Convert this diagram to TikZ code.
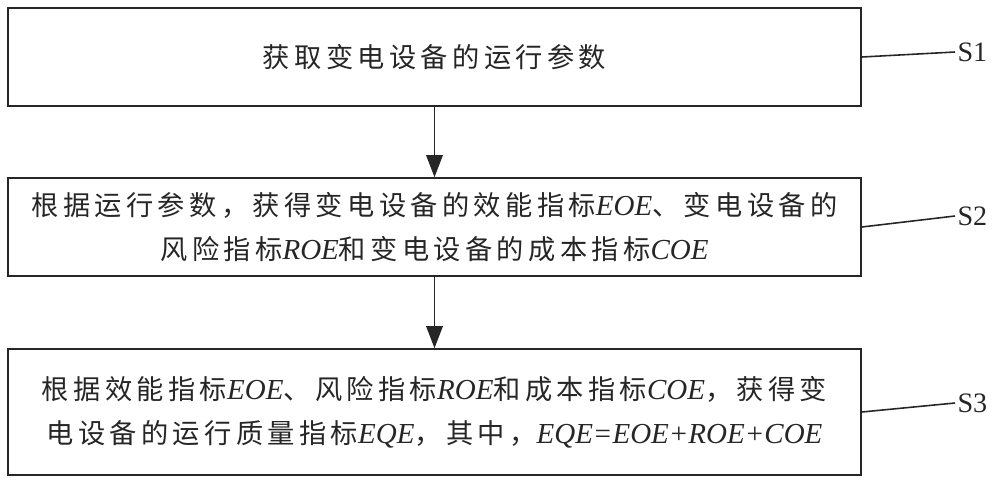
\documentclass[tikz,border=0pt]{standalone}
\usepackage{fontspec}
\setmainfont[LetterSpace=16]{Noto Sans CJK SC}
\newfontfamily\enfont{Liberation Serif}
\usetikzlibrary{arrows.meta}
\newcommand{\indx}[1]{{\enfont\itshape\fontsize{16.5}{25}\selectfont #1}}

\begin{document}
\begin{tikzpicture}[
  stepbox/.style={rectangle, draw=black!85, line width=0.9pt, minimum width=17.06cm,
    minimum height=1.96cm, align=center, inner sep=0pt, text=black!85,
    font=\fontsize{15.5}{25}\selectfont},
  steplabel/.style={anchor=west, inner sep=1pt, text=black!85,
    font=\enfont\fontsize{16}{18}\selectfont},
  >={Triangle[length=4.4mm,width=3.3mm]},
  line width=0.9pt, draw=black!85
]
  \useasboundingbox (0,0) rectangle (20,-9.72);

  \node[stepbox] (s1) at (8.69,-1.14) {获取变电设备的运行参数};
  \node[stepbox] (s2) at (8.69,-4.54)
    {根据运行参数，获得变电设备的效能指标\indx{EOE}、变电设备的\\
     风险指标\indx{ROE}和变电设备的成本指标\indx{COE}};
  \node[stepbox, minimum height=2.52cm] (s3) at (8.69,-8.24)
    {根据效能指标\indx{EOE}、风险指标\indx{ROE}和成本指标\indx{COE}，获得变\\
     电设备的运行质量指标\indx{EQE}，其中，\indx{EQE=EOE+ROE+COE}};

  \node[steplabel] (l1) at (19.1,-1.04) {S1};
  \node[steplabel] (l2) at (19.1,-4.32) {S2};
  \node[steplabel] (l3) at (19.1,-8.06) {S3};

  \draw[->] (s1) -- (s2);
  \draw[->] (s2) -- (s3);

  \draw (s1.east) -- (l1.west);
  \draw (s2.east) -- (l2.west);
  \draw (s3.east) -- (l3.west);
\end{tikzpicture}
\end{document}
